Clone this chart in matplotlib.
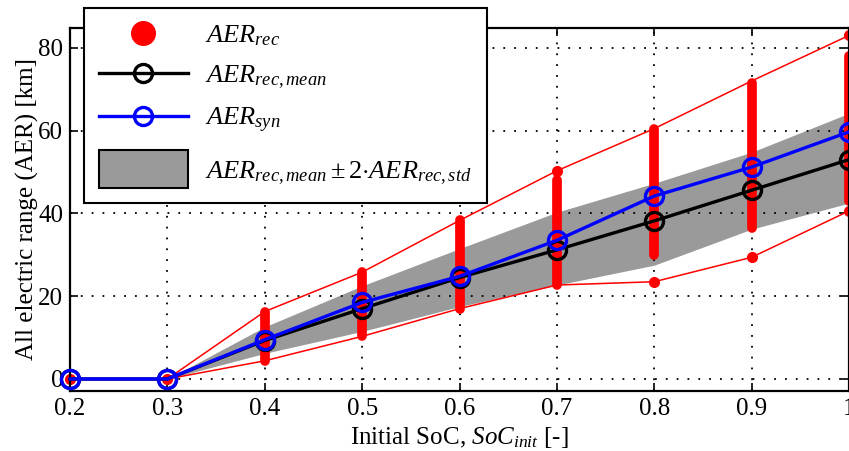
import matplotlib
matplotlib.use('Agg')
import matplotlib.pyplot as plt
from matplotlib.lines import Line2D
from matplotlib.patches import Patch
from matplotlib.legend_handler import HandlerPatch

plt.rcParams['font.family'] = 'Liberation Serif'
plt.rcParams['mathtext.fontset'] = 'custom'
plt.rcParams['mathtext.rm'] = 'Liberation Serif'
plt.rcParams['mathtext.it'] = 'Liberation Serif:italic'

soc = [0.2, 0.3, 0.4, 0.5, 0.6, 0.7, 0.8, 0.9, 1.0]
aer_mean = [0, 0, 9.3, 17.0, 24.5, 31.2, 38.2, 45.6, 53.0]
aer_syn = [0, 0, 9.5, 18.5, 24.8, 33.5, 44.2, 51.2, 59.7]
band_lo = [0, 0, 6.2, 11.5, 17.5, 22.7, 27.5, 36.2, 42.5]
band_hi = [0, 0, 12.6, 22.5, 31.5, 40.3, 47.3, 54.8, 64.2]
rec_max = [0, 0, 16.3, 25.8, 38.3, 50.3, 60.5, 72.0, 83.0]
rec_min = [0, 0, 4.4, 10.3, 17.0, 22.7, 23.5, 29.4, 40.6]
# dense runs of recorded points (they merge into a solid column)
run_soc = [0.4, 0.5, 0.6, 0.7, 0.8, 0.9, 1.0]
run_lo = [4.4, 10.3, 17.0, 22.7, 30.0, 36.5, 43.0]
run_hi = [16.3, 25.8, 38.3, 48.0, 60.5, 71.5, 78.0]
# recorded points standing apart from the columns
lone_soc = [0.2, 0.3, 0.7, 0.8, 0.9, 1.0, 1.0]
lone_aer = [0, 0, 50.3, 23.5, 29.4, 83.0, 40.6]

xtick_labels = ['0.2', '0.3', '0.4', '0.5', '0.6', '0.7', '0.8', '0.9', '1']

fig = plt.figure(figsize=(8.49, 4.51), dpi=100)
ax = fig.add_axes([70/849, 1-391/451, 1-70/849, 363/451])

ax.fill_between(soc, band_lo, band_hi, color='#9a9a9a', lw=0, zorder=1)
ax.plot(soc, rec_max, color='red', lw=1.1, zorder=2)
ax.plot(soc, rec_min, color='red', lw=1.1, zorder=2)
for x, lo, hi in zip(run_soc, run_lo, run_hi):
    ax.plot([x, x], [lo, hi], color='red', lw=7, solid_capstyle='round', zorder=2.5)
ax.plot(lone_soc, lone_aer, ls='none', marker='o', ms=7, color='red', zorder=2.5, clip_on=False)

l_mean, = ax.plot(soc, aer_mean, color='black', lw=2.4, marker='o', ms=13, mfc='none',
                  mew=2.4, zorder=3, clip_on=False)
l_syn, = ax.plot(soc, aer_syn, color='blue', lw=2.4, marker='o', ms=13, mfc='none',
                 mew=2.4, zorder=4, clip_on=False)

ax.set_xlim(0.2, 1.0)
ax.set_ylim(-2.9, 84.8)
ax.set_xticks(soc)
ax.set_xticklabels(xtick_labels)
ax.set_yticks([0, 20, 40, 60, 80])
ax.tick_params(direction='in', length=6, width=1.2, labelsize=18, top=True, right=True, pad=5)
ax.grid(True, color='black', ls=(0, (1, 5)), lw=1.3)
ax.set_axisbelow('line')
for s in ax.spines.values():
    s.set_linewidth(1.6)

ax.set_xlabel('Initial SoC, $SoC_{init}$ [-]', fontsize=18, labelpad=4)
ax.set_ylabel('All electric range (AER) [km]', fontsize=18, labelpad=-1)


class TallPatch(HandlerPatch):
    # the shaded-band swatch in the legend is taller than the other rows
    def legend_artist(self, legend, orig_handle, fontsize, handlebox):
        extra = 12
        handlebox.height += extra
        handlebox.ydescent += extra / 2
        return super().legend_artist(legend, orig_handle, fontsize, handlebox)


handles = [Line2D([], [], ls='none', marker='o', ms=17, color='red'),
           l_mean, l_syn,
           Patch(facecolor='#9a9a9a', edgecolor='black', lw=1.5)]
labels = [r'$AER_{rec}$', r'$AER_{rec,mean}$', r'$AER_{syn}$',
          r'$AER_{rec,mean} \pm 2{\cdot}AER_{rec,std}$']
leg = fig.legend(handles, labels, loc='upper left', bbox_to_anchor=(84/849, 1-8/451),
                 frameon=True, fancybox=False, edgecolor='black', framealpha=1,
                 fontsize=19, numpoints=1, handlelength=3.4, handleheight=0.9,
                 labelspacing=0.55, borderpad=0.55, handletextpad=0.65, borderaxespad=0,
                 handler_map={Patch: TallPatch()})
leg.get_frame().set_linewidth(1.5)

fig.savefig('out.png', dpi=100)
